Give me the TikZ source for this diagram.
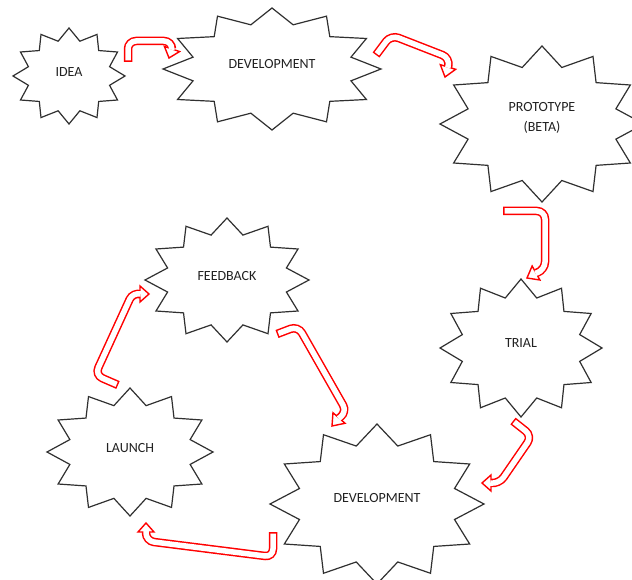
\documentclass[tikz,border=0pt]{standalone}
\usepackage{fontspec}
\setmainfont{Carlito}
\usetikzlibrary{calc}
\definecolor{starline}{HTML}{303030}
\definecolor{labelgray}{HTML}{222222}
\tikzset{
  burstline/.style={draw=starline, line width=1.2pt, line join=miter},
  lbl/.style={text=labelgray, font=\fontsize{14}{20}\selectfont, align=center, inner sep=0pt},
  redshaft/.style={draw=red, line width=8.5pt, rounded corners=8pt},
  whiteshaft/.style={draw=white, line width=5.5pt, rounded corners=8pt, shorten <=1.5pt},
  redhead/.style={fill=white, draw=red, line width=1.4pt, line join=miter},
}
\newcommand\burst[3]{%
  \draw[burstline, shift={(#1)}] plot[samples at={0,...,23}, variable=\k]
    ({(1-0.25*mod(\k,2))*#2*cos(15*\k)},{(1-0.25*mod(\k,2))*#3*sin(15*\k)}) -- cycle;}
\newcommand\flowarrow[3]{%
  \draw[redshaft] #1 (#2);
  \draw[redhead] (#3) -- ($(#2)!8pt!90:(#3)$) -- ($(#2)!8pt!-90:(#3)$) -- cycle;
  \draw[whiteshaft] #1 ($(#2)!0.8pt!(#3)$);}
\begin{document}
\begin{tikzpicture}[x=1pt,y=-1pt]
\clip (0,0) rectangle (632,580);
\fill[white] (0,0) rectangle (632,580);
% star centres
\coordinate (idea-c) at (69,76);
\coordinate (dev1-c) at (272,69);
\coordinate (proto-c) at (542,124);
\coordinate (trial-c) at (521,348);
\coordinate (feed-c) at (227,280);
\coordinate (launch-c) at (130,452);
\coordinate (dev2-c) at (377,504);
\burst{idea-c}{56}{48}
\burst{dev1-c}{109}{61}
\burst{proto-c}{102}{78}
\burst{trial-c}{81}{69}
\burst{feed-c}{82}{62}
\burst{launch-c}{83}{64}
\burst{dev2-c}{107}{80}
% labels
\node[lbl] (idea) at ($(idea-c)+(0,-4)$) {IDEA};
\node[lbl] (dev1) at ($(dev1-c)+(0,-5)$) {DEVELOPMENT};
\node[lbl] (proto) at ($(proto-c)+(0,-6)$) {PROTOTYPE\\(BETA)};
\node[lbl] (trial) at ($(trial-c)+(0,-5)$) {TRIAL};
\node[lbl] (feed) at ($(feed-c)+(0,-4)$) {FEEDBACK};
\node[lbl] (launch) at ($(launch-c)+(0,-4)$) {LAUNCH};
\node[lbl] (dev2) at ($(dev2-c)+(0,-6)$) {DEVELOPMENT};
% arrow 1: idea -> development
\coordinate (a1t) at (128,62); \coordinate (a1c1) at (128,41);
\coordinate (a1c2) at (172,41); \coordinate (a1b) at (172,49); \coordinate (a1h) at (169,58);
\flowarrow{(a1t) -- (a1c1) -- (a1c2) --}{a1b}{a1h}
% arrow 2: development -> prototype
\coordinate (a2t) at (376,55); \coordinate (a2c1) at (391,35);
\coordinate (a2c2) at (450,58); \coordinate (a2b) at (448,67); \coordinate (a2h) at (445,77);
\flowarrow{(a2t) -- (a2c1) -- (a2c2) --}{a2b}{a2h}
% arrow 3: prototype -> trial
\coordinate (a3t) at (503,211); \coordinate (a3c1) at (545,211);
\coordinate (a3c2) at (545,270); \coordinate (a3b) at (536,273); \coordinate (a3h) at (527,278);
\flowarrow{(a3t) -- (a3c1) -- (a3c2) --}{a3b}{a3h}
% arrow 4: trial -> development
\coordinate (a4t) at (513,421); \coordinate (a4c1) at (532,436);
\coordinate (a4c2) at (499,484); \coordinate (a4b) at (491,483); \coordinate (a4h) at (482,483);
\flowarrow{(a4t) -- (a4c1) -- (a4c2) --}{a4b}{a4h}
% arrow 5: feedback -> development
\coordinate (a5t) at (277,334); \coordinate (a5c1) at (298,326);
\coordinate (a5c2) at (347,412); \coordinate (a5b) at (339,418); \coordinate (a5h) at (332,426);
\flowarrow{(a5t) -- (a5c1) -- (a5c2) --}{a5b}{a5h}
% arrow 6: launch -> feedback
\coordinate (a6t) at (118,385); \coordinate (a6c1) at (95,375);
\coordinate (a6c2) at (133,292); \coordinate (a6b) at (140,294); \coordinate (a6h) at (149,294);
\flowarrow{(a6t) -- (a6c1) -- (a6c2) --}{a6b}{a6h}
% arrow 7: development -> launch
\coordinate (a7t) at (273,532); \coordinate (a7c1) at (273,557);
\coordinate (a7c2) at (146,541); \coordinate (a7b) at (146,532); \coordinate (a7h) at (146,523);
\flowarrow{(a7t) -- (a7c1) -- (a7c2) --}{a7b}{a7h}
\end{tikzpicture}
\end{document}
